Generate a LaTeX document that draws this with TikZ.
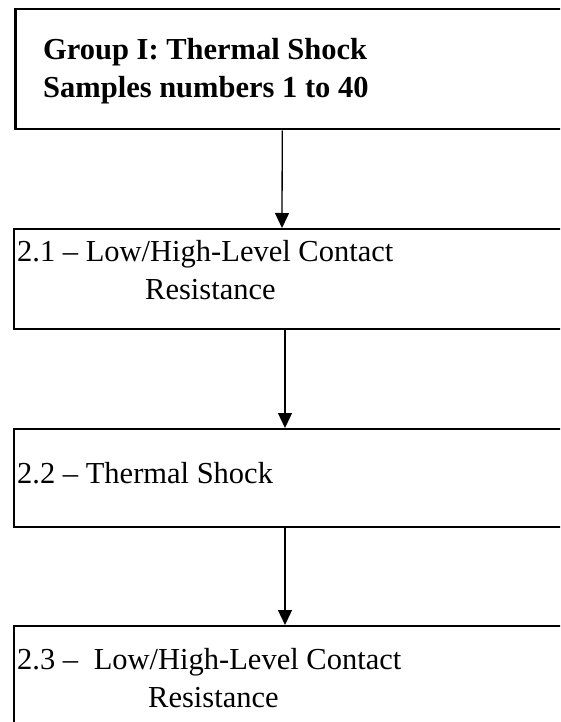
\documentclass[tikz,border=0pt]{standalone}
\usepackage{fontspec}
\setmainfont{Liberation Serif}
\usetikzlibrary{arrows.meta}
\begin{document}
\begin{tikzpicture}[x=1pt,y=1pt,
  box/.style={draw=black,line width=2pt,rectangle,inner sep=0pt,anchor=north west},
  txt/.style={anchor=base west,inner sep=0pt,align=left,font=\fontsize{30.5}{38}\selectfont},
  arr/.style={line width=1.3pt,-{Triangle[length=15pt,width=14pt]}}]
\useasboundingbox (0,0) rectangle (560,-722);
\clip (0,0) rectangle (560,-722);
\fill[white] (0,0) rectangle (560,-722);
\node[box,line width=2.5pt,minimum width=600pt,minimum height=120pt] (b1) at (14,-8) {};
\node[box,minimum width=600pt,minimum height=100pt] (b2) at (13,-228) {};
\node[box,minimum width=600pt,minimum height=98pt] (b3) at (13,-428) {};
\node[box,minimum width=600pt,minimum height=160pt] (b4) at (13,-625) {};
% base anchor of a multi-line node lies on its last line
\node[txt,font=\fontsize{30.5}{38}\selectfont\bfseries] (t1) at (43,-98) {Group I: Thermal Shock\\Samples numbers 1 to 40};
\node[txt] (t2) at (17,-299) {2.1 – Low/High-Level Contact\\\hspace*{128pt}Resistance};
\node[txt] (t3) at (17,-483) {2.2 – Thermal Shock};
\node[txt] (t4) at (17,-707) {2.3 –\hspace{8pt} Low/High-Level Contact\\\hspace*{131pt}Resistance};
\draw[arr] ([xshift=-33pt]b1.south) -- ([xshift=-32pt]b2.north);
\draw[arr] ([xshift=-29pt]b2.south) -- ([xshift=-29pt]b3.north);
\draw[arr] ([xshift=-29pt]b3.south) -- ([xshift=-29pt]b4.north);
\end{tikzpicture}
\end{document}
